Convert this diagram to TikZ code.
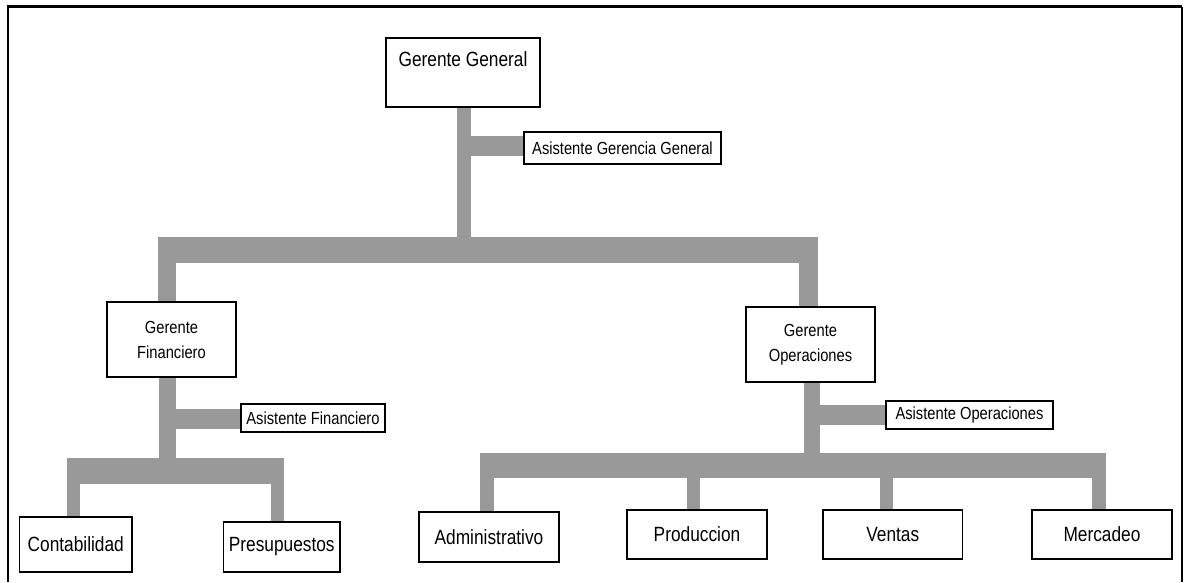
\documentclass[tikz,border=0pt]{standalone}
\usepackage{fontspec}
\setmainfont[FakeStretch=0.84]{Liberation Sans}
\usetikzlibrary{backgrounds}
\definecolor{bargray}{HTML}{999999}
\newcommand{\bigtxt}{\fontsize{20.6}{22}\selectfont}
\newcommand{\smalltxt}{\fontsize{17.5}{25}\selectfont}
\begin{document}
\begin{tikzpicture}[x=1pt,y=-1pt,
  box/.style={draw=black, line width=1.3pt, fill=white, inner sep=0pt,
    align=center, font=\bigtxt},
  smallbox/.style={box, font=\smalltxt},
  bar/.style={draw=bargray, line cap=butt}]
\useasboundingbox (0,0) rectangle (1186,582);

% outer frame (open at the bottom)
\draw[line width=2.2pt] (8,582) -- (8,6.5) -- (1182,6.5);
\draw[line width=1.6pt] (1182,6.5) -- (1182,582);

% positions of the units
\node[box, minimum width=154, text height=28, text depth=41] (gg) at (463,72.5) {Gerente General};
\node[smallbox, minimum width=197, minimum height=32] (agg) at (622.5,148) {Asistente Gerencia General};
\node[smallbox, minimum width=129, minimum height=75] (gf) at (171.5,339.5) {Gerente\\Financiero};
\node[smallbox, minimum width=144, minimum height=28] (af) at (313,418) {Asistente Financiero};
\node[smallbox, minimum width=129, minimum height=75] (go) at (810.5,344.5) {Gerente\\Operaciones};
\node[smallbox, minimum width=167, minimum height=28] (ao) at (969.5,415) {Asistente Operaciones};
\node[box, minimum width=112.5, minimum height=55] (cont) at (75.75,544.5) {Contabilidad};
\node[box, minimum width=116.5, minimum height=50] (pres) at (281.75,547) {Presupuestos};
\node[box, minimum width=140, minimum height=50] (adm) at (489,537) {Administrativo};
\node[box, minimum width=140, minimum height=49] (prod) at (697,534.5) {Produccion};
\node[box, minimum width=139.5, minimum height=49] (vent) at (892.75,534.5) {Ventas};
\node[box, minimum width=140, minimum height=49] (merc) at (1102,534.5) {Mercadeo};

% bus centre lines
\coordinate (b1) at (464,250);
\coordinate (b2) at (167.5,471);
\coordinate (b3) at (812,465.5);

\begin{scope}[on background layer]
  \fill[white] (0,0) rectangle (1186,582);
  % general management
  \draw[bar, line width=14] ([xshift=1]gg.south) -- ([xshift=1]gg.south |- b1);
  \draw[bar, line width=20] ([yshift=2]gg.south |- agg.west) -- ([yshift=2]agg.west);
  \draw[bar, line width=26] ([xshift=-14]gf.north |- b1) -- ([xshift=7.5]go.north |- b1);
  \draw[bar, line width=18] ([xshift=-5]gf.north) -- ([xshift=-5]gf.north |- b1);
  \draw[bar, line width=19] ([xshift=-2]go.north) -- ([xshift=-2]go.north |- b1);
  % finance
  \draw[bar, line width=17] ([xshift=-4]gf.south) -- ([xshift=-4]gf.south |- b2);
  \draw[bar, line width=20] ([yshift=-1]gf.south |- af.west) -- ([yshift=-1]af.west);
  \draw[bar, line width=26] ([xshift=-8.75]cont.north |- b2) -- ([xshift=2.25]pres.north |- b2);
  \draw[bar, line width=13] ([xshift=-2.25]cont.north) -- ([xshift=-2.25]cont.north |- b2);
  \draw[bar, line width=13] ([xshift=-4.25]pres.north) -- ([xshift=-4.25]pres.north |- b2);
  % operations
  \draw[bar, line width=16] ([xshift=1.5]go.south) -- ([xshift=1.5]go.south |- b3);
  \draw[bar, line width=20] (go.south |- ao.west) -- (ao.west);
  \draw[bar, line width=25] ([xshift=-9]adm.north |- b3) -- ([xshift=4]merc.north |- b3);
  \draw[bar, line width=14] ([xshift=-2]adm.north) -- ([xshift=-2]adm.north |- b3);
  \draw[bar, line width=13] ([xshift=-3.5]prod.north) -- ([xshift=-3.5]prod.north |- b3);
  \draw[bar, line width=13] ([xshift=-6.25]vent.north) -- ([xshift=-6.25]vent.north |- b3);
  \draw[bar, line width=14] ([xshift=-3]merc.north) -- ([xshift=-3]merc.north |- b3);
\end{scope}
\end{tikzpicture}
\end{document}
